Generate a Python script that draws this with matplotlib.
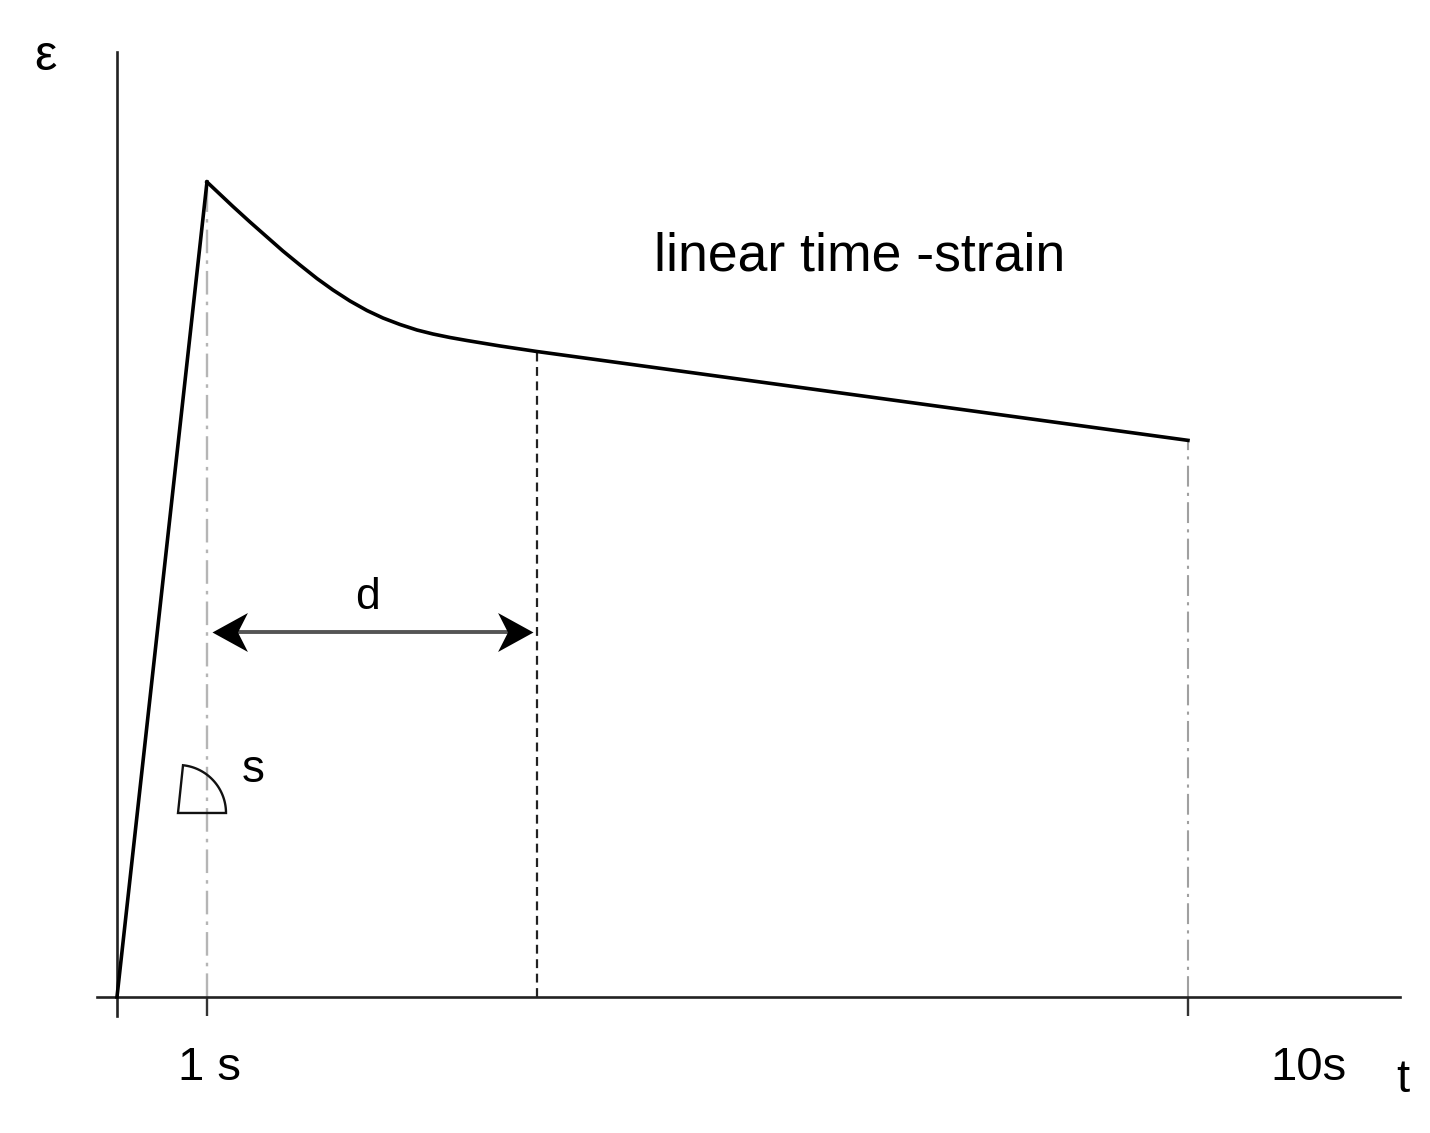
import numpy as np
import matplotlib
matplotlib.use('Agg')
import matplotlib.pyplot as plt
from matplotlib.path import Path
from matplotlib.patches import Polygon

plt.rcParams['font.family'] = ['Liberation Sans', 'DejaVu Sans']

# Schematic strain curve (t in units of the 1 s mark, strain normalised to peak)
tLoad = [0.0, 1.0]
epsLoad = [0.0, 1.0]

tCreep = [1.0, 1.289, 1.478, 1.667, 1.844, 2.033, 2.222, 2.4, 2.589, 2.778,
          2.956, 3.144, 3.333, 3.511, 3.7, 3.889, 4.256, 4.667, 11.9]
epsCreep = [1.0, 0.9699, 0.9509, 0.9325, 0.9153, 0.8982, 0.8816, 0.8675, 0.8540, 0.8423,
            0.8331, 0.8252, 0.8184, 0.8135, 0.8092, 0.8055, 0.7988, 0.7920, 0.6830]

tPeak = 1.0      # end of loading ("1 s")
tD = 4.667       # end of interval d
tEnd = 11.9      # "10s" mark
epsArrow = 0.448
tickLabels = ['1 s', '10s']

# Base figure
W, H = 1430, 1133
fig = plt.figure(figsize=(W / 100, H / 100), dpi=100)
ax = fig.add_axes([97 / W, 1 - 1016 / H, (1400 - 97) / W, (1016 - 52) / H])
ax.set_xlim(-0.222, 14.256)
ax.set_ylim(-0.0233, 1.1595)

for side in ['top', 'right']:
    ax.spines[side].set_visible(False)
for side in ['left', 'bottom']:
    ax.spines[side].set_position(('data', 0))
    ax.spines[side].set_linewidth(1.9)
    ax.spines[side].set_color('#222222')
ax.set_yticks([])
ax.set_xticks([tPeak, tEnd])
ax.set_xticklabels([])
ax.tick_params(axis='x', direction='out', length=14, width=1.7, color='#333333')

## reference lines
ax.plot([tPeak, tPeak], [0, epsCreep[0]], color='#b5b5b5', lw=1.7,
        linestyle=(0, (10, 3, 1.5, 3)), zorder=1)
ax.plot([tEnd, tEnd], [0, epsCreep[-1]], color='#a0a0a0', lw=1.5,
        linestyle=(0, (10, 3, 1.5, 3)), zorder=1)
ax.plot([tD, tD], [0, epsCreep[-2]], color='#222222', lw=1.6,
        linestyle=(0, (4, 2.5)), zorder=1)

## strain curve
ax.plot(tLoad, epsLoad, color='black', lw=2.6, solid_joinstyle='miter', zorder=3)
ax.plot(tCreep, epsCreep, color='black', lw=2.6, solid_joinstyle='round', zorder=3)

## interval arrow with barbed heads
headR = Path([(0, 0), (-1, 0.55), (-0.72, 0), (-1, -0.55), (0, 0)],
             [Path.MOVETO, Path.LINETO, Path.LINETO, Path.LINETO, Path.CLOSEPOLY])
headL = Path([(0, 0), (1, 0.55), (0.72, 0), (1, -0.55), (0, 0)],
             [Path.MOVETO, Path.LINETO, Path.LINETO, Path.LINETO, Path.CLOSEPOLY])
aL, aR = tPeak + 0.06, tD - 0.05
ax.plot([aL + 0.2, aR - 0.2], [epsArrow, epsArrow], color='#555555', lw=2.8, zorder=2)
ax.plot([aL], [epsArrow], marker=headL, markersize=51, color='black', mew=0, zorder=3)
ax.plot([aR], [epsArrow], marker=headR, markersize=51, color='black', mew=0, zorder=3)
ax.text((tPeak + tD) / 2 - 0.05, epsArrow + 0.042, 'd', fontsize=32,
        ha='center', va='center')

## slope marker s
cx, cy, r = 0.678, 0.2258, 48
ang = np.radians(np.linspace(0, 84, 40))
arcX = cx + r / 90 * np.cos(ang)
arcY = cy + r / 815 * np.sin(ang)
pts = np.column_stack([np.r_[cx, arcX, cx], np.r_[cy, arcY, cy]])
ax.add_patch(Polygon(pts, closed=True, fill=False, edgecolor='#111111', lw=1.7, zorder=3))
ax.text(cx + 75 / 90, cy + 43 / 815, 's', fontsize=33, ha='center', va='center')

## labels
ax.text(8.25, 0.908, 'linear time -strain', fontsize=38.5, ha='center', va='center')
fig.text(210 / W, 1 - 1068 / H, tickLabels[0], fontsize=34, ha='center', va='center')
fig.text(1308 / W, 1 - 1068 / H, tickLabels[1], fontsize=34, ha='center', va='center')
fig.text(1403 / W, 1 - 1080 / H, 't', fontsize=34, ha='center', va='center')
fig.text(45 / W, 1 - 57 / H, 'ε', fontsize=36, ha='center', va='center')

fig.savefig('out.png', dpi=100)
